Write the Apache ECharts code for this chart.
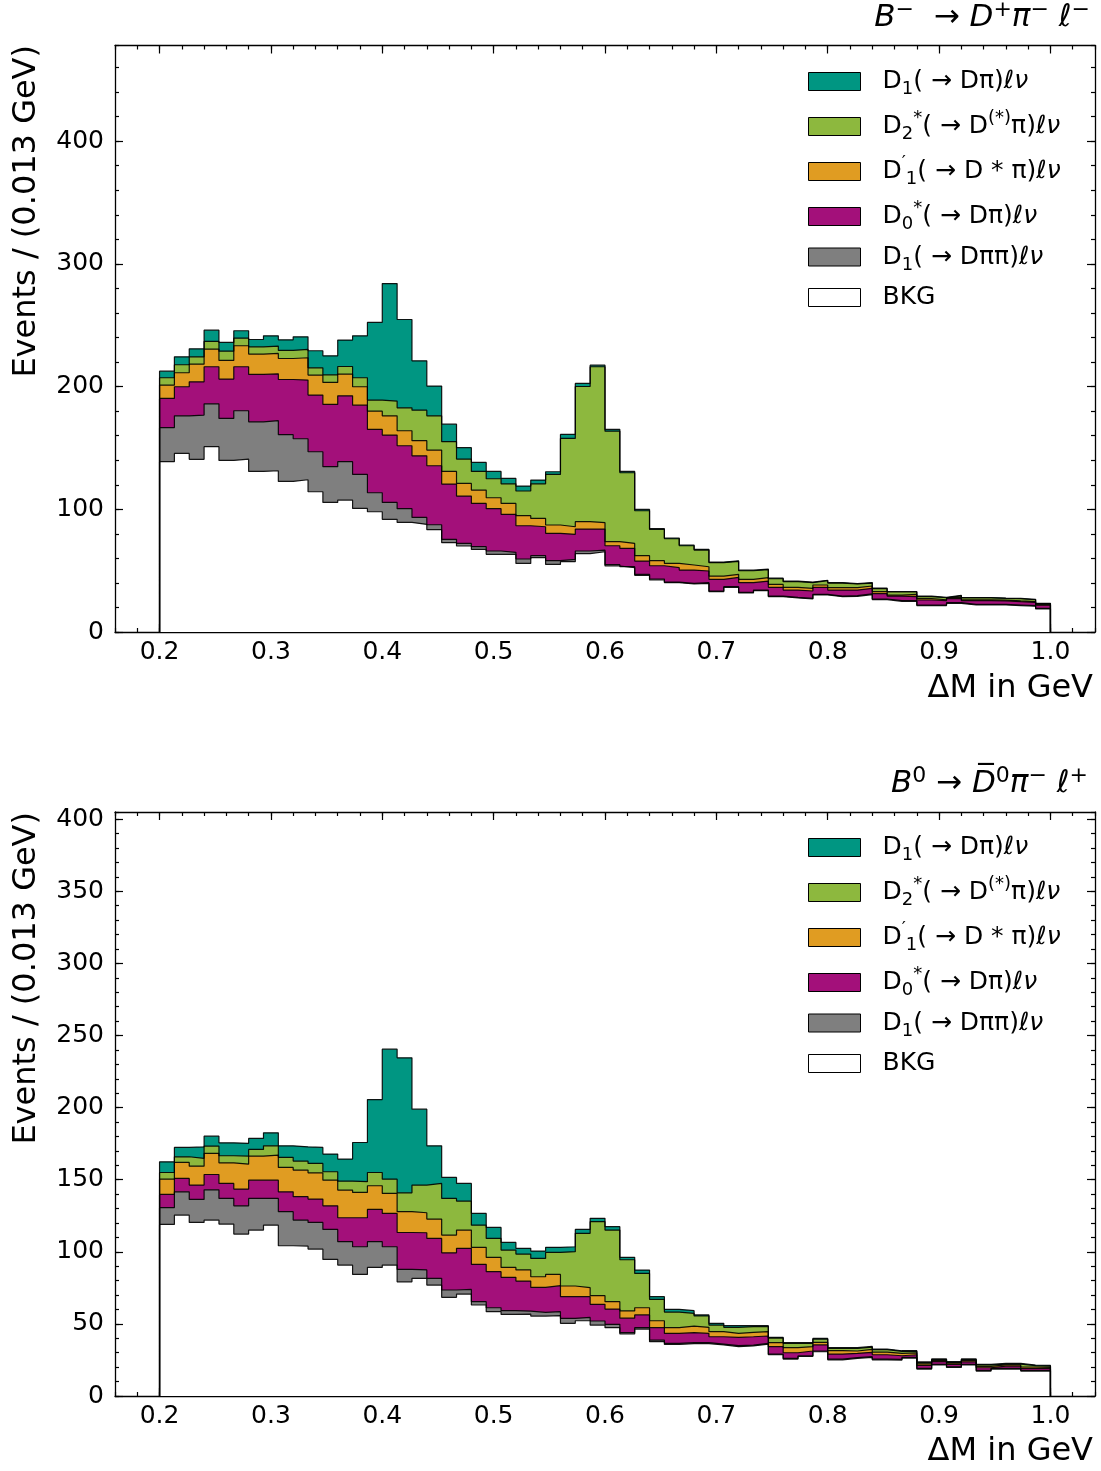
<!DOCTYPE html>
<html><head><meta charset="utf-8">
<script src="https://cdn.jsdelivr.net/npm/echarts@6/dist/echarts.min.js"></script>
<style>html,body{margin:0;padding:0;background:#fff}#c{width:1101px;height:1471px}</style>
</head><body><div id="c"></div>
<script>
// ---------------- data ----------------
const binLow = 0.2, binHigh = 1.0, nBins = 60;
const xMajorTicks = [0.2, 0.3, 0.4, 0.5, 0.6, 0.7, 0.8, 0.9, 1.0];
const yMajorTicksTop = [0, 100, 200, 300, 400];
const yMajorTicksBottom = [0, 50, 100, 150, 200, 250, 300, 350, 400];
const seriesNames = ['D1(→Dπ)ℓν', 'D2*(→D(*)π)ℓν', "D1'(→D*π)ℓν", 'D0*(→Dπ)ℓν', 'D1(→Dππ)ℓν', 'BKG'];
const seriesColors = ['#009682', '#8db83e', '#e09c22', '#a3107a', '#7f7f7f', '#ffffff'];

// Top panel: B- -> D+ pi- l-   (per-bin contributions)
const topBKG = [138.8,145.5,140.7,151.0,139.8,140.9,130.9,131.4,122.7,124.1,114.3,105.6,107.5,100.7,98.0,91.8,89.3,87.7,83.4,72.8,70.1,67.3,63.3,63.3,55.9,60.6,55.1,57.3,63.8,65.4,53.8,52.4,46.2,42.4,40.2,39.1,39.6,32.9,36.4,31.8,33.7,28.8,27.7,26.9,30.2,28.8,29.1,30.5,26.4,25.0,25.0,21.5,21.5,23.4,22.0,22.0,22.0,21.5,21.0,18.8];
const topD1pipi = [27.7,30.7,36.1,35.0,34.3,39.4,40.4,40.8,38.1,33.4,32.6,29.1,31.3,27.7,15.5,13.8,11.2,5.7,4.0,2.7,2.1,2.2,2.7,1.6,3.6,1.6,3.0,1.9,2.2,1.4,1.1,0.8,0.8,0.8,0.5,0.5,0.6,0.5,0.5,0.5,0.5,0.5,0.5,0.5,0.5,0.5,0.5,0.5,0.5,0.5,0.5,0.5,0.5,0.5,0.5,0.5,0.5,0.5,0.5,0.5];
const topD0 = [23.9,23.7,27.1,30.2,32.0,35.9,38.6,38.2,45.0,47.8,46.2,50.8,53.7,56.5,51.6,54.9,51.3,50.2,48.1,45.1,38.6,35.3,34.5,31.0,27.1,23.6,22.3,20.4,17.9,17.1,15.4,15.0,10.8,10.8,11.7,10.9,9.5,9.5,7.6,7.9,7.3,7.1,6.0,6.0,5.7,4.9,4.6,4.6,4.3,3.8,3.3,4.1,3.5,3.3,3.0,3.0,2.8,2.7,2.7,2.5];
const topD1p = [10.8,11.4,14.4,14.3,15.2,17.1,16.6,16.6,17.1,18.2,16.3,17.9,17.7,15.0,14.9,15.7,12.2,12.3,12.8,10.3,10.3,10.9,8.9,8.9,8.2,6.8,6.8,6.2,6.0,5.2,3.3,4.0,4.4,4.1,3.5,4.1,3.5,2.7,2.5,2.7,2.8,2.4,2.2,2.1,1.9,1.9,1.9,1.9,1.7,0.8,1.9,1.1,0.8,0.8,0.8,0.8,0.7,0.6,0.6,0.5];
const topD2 = [6.0,6.5,6.0,6.3,7.6,6.2,5.9,6.0,6.6,6.8,5.9,6.2,6.2,7.3,9.0,12.0,18.7,24.9,27.9,24.2,19.8,15.2,15.5,16.0,20.1,28.2,41.2,72.0,110.2,127.1,90.1,57.6,36.6,25.5,20.1,15.7,13.6,10.9,10.5,7.0,6.5,4.6,4.6,4.7,3.5,3.8,3.0,2.4,2.4,2.5,1.9,1.6,1.6,1.5,1.5,1.5,1.4,1.8,1.5,0.8];
const topD1 = [5.4,6.5,6.5,9.2,7.1,6.0,6.0,8.4,8.6,10.3,13.9,15.5,21.5,34.2,63.3,95.8,72.0,40.2,24.2,14.3,9.3,7.3,6.0,4.4,4.0,3.0,2.2,3.2,2.5,1.3,1.4,1.1,1.1,0.6,0.6,0.6,0.6,0.5,0.5,0.5,0.5,0.5,0.4,0.4,0.4,0.4,0.4,0.4,0.4,0.4,0.4,0.4,0.4,0.3,0.3,0.3,0.3,0.3,0.3,0.3];

// Bottom panel: B0 -> D0bar pi- l+
const botBKG = [119.0,125.5,120.4,122.0,119.2,112.3,115.1,118.5,104.2,104.0,101.9,94.7,90.8,84.3,89.2,90.8,79.2,81.6,76.9,68.4,70.7,63.1,58.5,56.6,56.8,55.4,55.7,50.4,52.2,49.2,47.4,43.0,46.4,37.7,35.8,36.3,36.3,35.4,34.2,34.7,36.0,28.6,25.6,27.4,30.7,25.1,26.1,26.8,25.1,24.9,26.3,18.7,21.5,19.8,21.5,17.3,18.7,18.7,17.3,17.3];
const botD1pipi = [11.6,16.1,15.9,21.0,17.8,19.6,21.9,18.5,23.6,18.0,18.5,20.8,16.2,19.2,17.8,12.7,8.6,5.8,4.7,5.1,3.2,2.3,2.7,2.6,2.1,2.6,2.8,3.4,2.3,2.8,2.3,1.0,1.0,1.1,0.7,0.7,0.7,0.6,0.7,0.6,0.5,0.5,0.5,0.5,0.5,0.5,0.5,0.5,0.5,0.5,0.5,0.5,0.5,0.5,0.5,0.5,0.5,0.5,0.5,0.5];
const botD0 = [9.2,9.3,10.0,10.6,10.4,11.6,12.7,12.7,13.8,16.2,16.2,16.4,16.6,20.1,22.4,23.1,25.6,25.8,27.7,25.8,28.5,25.9,25.0,23.1,20.8,17.3,18.0,15.1,14.4,11.6,10.6,10.0,8.8,8.6,6.9,6.9,6.4,5.1,5.8,5.8,5.1,5.1,3.9,3.3,4.2,3.5,3.0,3.0,3.0,2.5,1.8,2.0,1.8,1.6,1.7,1.8,1.5,1.5,1.4,1.3];
const botD1p = [10.6,11.1,13.1,14.6,14.3,17.3,16.7,17.4,16.9,18.5,18.2,17.8,19.2,17.6,16.4,13.9,14.4,13.9,13.4,12.3,12.7,11.8,9.9,6.9,7.7,7.4,7.8,7.4,6.2,6.0,5.1,5.0,5.0,4.8,4.0,4.6,4.2,3.5,2.7,3.0,3.0,2.8,3.5,3.0,1.8,2.3,1.6,2.0,1.8,1.6,1.3,1.1,0.9,0.9,1.0,1.0,0.9,0.9,0.9,0.8];
const botD2 = [4.6,3.9,5.4,5.1,4.9,5.6,4.6,6.4,7.0,6.2,6.5,5.8,6.2,7.4,9.2,9.9,13.1,19.2,24.7,25.4,20.1,15.4,13.2,12.0,11.0,12.7,15.3,23.8,37.7,51.3,49.7,35.5,23.8,14.8,10.8,8.8,7.9,4.6,4.2,4.0,3.6,3.2,3.0,2.3,2.2,1.6,1.8,1.6,1.7,1.4,1.0,0.8,0.5,0.5,0.5,0.9,0.5,0.5,0.9,0.8];
const botD1 = [7.4,6.5,8.0,6.9,9.0,8.8,7.6,9.0,8.0,9.9,11.1,12.3,15.3,27.2,50.6,90.1,93.6,52.6,26.1,14.6,12.2,8.1,7.6,5.3,4.0,5.1,3.5,3.4,2.7,2.3,2.3,1.7,2.3,1.9,1.9,1.9,0.7,1.2,1.2,0.7,0.6,0.5,0.5,0.5,0.5,0.5,0.5,0.5,0.5,0.5,0.5,0.5,0.5,0.5,0.5,0.5,0.5,0.5,0.5,0.5];

// ---------------- build ----------------
const FONT = 'DejaVu Sans';
const edges = Array.from({length: nBins}, (_, i) => binLow + i * (binHigh - binLow) / nBins);

function cumulative(layersBottomUp) {
  const out = [];
  let run = new Array(nBins).fill(0);
  layersBottomUp.forEach(l => { run = run.map((v, i) => v + l[i]); out.push(run.slice()); });
  return out; // out[0]=bkg ... out[5]=total
}
function histData(cum) {
  const pts = [[binLow, 0]];
  for (let i = 0; i < nBins; i++) pts.push([edges[i], +cum[i].toFixed(3)]);
  pts.push([binHigh, +cum[nBins - 1].toFixed(3)]);
  pts.push([binHigh, 0]);
  return pts;
}
const panels = [
  cumulative([topBKG, topD1pipi, topD0, topD1p, topD2, topD1]),
  cumulative([botBKG, botD1pipi, botD0, botD1p, botD2, botD1])
];

const tickLine = {color: '#000', width: 1.2};
const axLine = {color: '#000', width: 1.3};
const isMult = (v, step) => Math.abs(v / step - Math.round(v / step)) < 1e-6;

function xAxesFor(gi) {
  const base = {gridIndex: gi, type: 'value', min: 0.16, max: 1.04, splitLine: {show: false}};
  return [
    Object.assign({}, base, {position: 'bottom', interval: 0.02,
      axisLine: {onZero: false, lineStyle: axLine},
      axisTick: {inside: true, length: 4, lineStyle: tickLine},
      axisLabel: {formatter: v => (isMult(v, 0.1) && v > 0.19 && v < 1.01) ? v.toFixed(1) : '',
        fontFamily: FONT, fontSize: 25, color: '#000', margin: 8}}),
    Object.assign({}, base, {position: 'bottom',
      axisLine: {show: false, onZero: false},
      axisTick: {inside: true, length: 8, customValues: xMajorTicks, lineStyle: tickLine},
      axisLabel: {show: false}}),
    Object.assign({}, base, {position: 'top', interval: 0.02,
      axisLine: {onZero: false, lineStyle: axLine},
      axisTick: {inside: true, length: 4, lineStyle: tickLine},
      axisLabel: {show: false}}),
    Object.assign({}, base, {position: 'top',
      axisLine: {show: false, onZero: false},
      axisTick: {inside: true, length: 8, customValues: xMajorTicks, lineStyle: tickLine},
      axisLabel: {show: false}})
  ];
}
function yAxesFor(gi, ymax, minorInt, majors, labelStep) {
  const base = {gridIndex: gi, type: 'value', min: 0, max: ymax, splitLine: {show: false}};
  return [
    Object.assign({}, base, {position: 'left', interval: minorInt,
      axisLine: {onZero: false, lineStyle: axLine},
      axisTick: {inside: true, length: 4, lineStyle: tickLine},
      axisLabel: {formatter: v => (isMult(v, labelStep) && v <= majors[majors.length - 1]) ? String(Math.round(v)) : '',
        fontFamily: FONT, fontSize: 25, color: '#000', margin: 11}}),
    Object.assign({}, base, {position: 'left',
      axisLine: {show: false, onZero: false},
      axisTick: {inside: true, length: 8, customValues: majors, lineStyle: tickLine},
      axisLabel: {show: false}}),
    Object.assign({}, base, {position: 'right', interval: minorInt,
      axisLine: {onZero: false, lineStyle: axLine},
      axisTick: {inside: true, length: 4, lineStyle: tickLine},
      axisLabel: {show: false}}),
    Object.assign({}, base, {position: 'right',
      axisLine: {show: false, onZero: false},
      axisTick: {inside: true, length: 8, customValues: majors, lineStyle: tickLine},
      axisLabel: {show: false}})
  ];
}

const series = [];
panels.forEach((cum, p) => {
  seriesNames.forEach((nm, k) => {
    series.push({
      type: 'line', name: nm, xAxisIndex: p * 4, yAxisIndex: p * 4,
      data: histData(cum[5 - k]), step: 'end', symbol: 'none', showSymbol: false,
      silent: true, animation: false, emphasis: {disabled: true},
      itemStyle: {color: seriesColors[k]},
      lineStyle: {color: '#000', width: 1.2, opacity: 0.9},
      areaStyle: {color: seriesColors[k], opacity: 1, origin: 'start'}
    });
  });
});

const legendLabels = {
  'D1(→Dπ)ℓν': '{n|D}{sb|1}{n|( → Dπ)}{i|ℓν}',
  'D2*(→D(*)π)ℓν': '{n|D}{sb|2}{sp|*}{n|( → D}{sp|(*)}{n|π)}{i|ℓν}',
  "D1'(→D*π)ℓν": '{n|D}{sp|′}{sb|1}{n|( → D * π)}{i|ℓν}',
  'D0*(→Dπ)ℓν': '{n|D}{sb|0}{sp|*}{n|( → Dπ)}{i|ℓν}',
  'D1(→Dππ)ℓν': '{n|D}{sb|1}{n|( → Dππ)}{i|ℓν}',
  'BKG': '{bk|BKG}'
};
const legendRich = {
  n: {fontFamily: FONT, fontSize: 25, lineHeight: 34, color: '#000'},
  i: {fontFamily: FONT, fontSize: 25, lineHeight: 34, color: '#000', fontStyle: 'italic'},
  sb: {fontFamily: FONT, fontSize: 18, lineHeight: 21, color: '#000', verticalAlign: 'bottom'},
  sp: {fontFamily: FONT, fontSize: 18, lineHeight: 21, color: '#000', verticalAlign: 'top'},
  bk: {fontFamily: FONT, fontSize: 25, lineHeight: 24, color: '#000'}
};
function legendFor(top) {
  return {
    orient: 'vertical', left: 808, top: top, padding: 0, itemGap: 11,
    itemWidth: 52, itemHeight: 18, icon: 'rect', selectedMode: false,
    data: seriesNames.map((nm, k) => ({name: nm,
      itemStyle: {color: seriesColors[k], borderColor: '#000', borderWidth: 1}})),
    formatter: nm => legendLabels[nm],
    textStyle: {padding: [0, 0, 0, 17], rich: legendRich}
  };
}

const titleRich = {
  i: {fontFamily: FONT, fontSize: 31, lineHeight: 38, color: '#000', fontStyle: 'italic', fontWeight: 'normal'},
  n: {fontFamily: FONT, fontSize: 31, lineHeight: 38, color: '#000', fontWeight: 'normal'},
  sp: {fontFamily: FONT, fontSize: 22, lineHeight: 22, color: '#000', verticalAlign: 'top', fontWeight: 'normal'}
};

const axisTitle = (x, y, text, rot, align) => ({
  type: 'text', x: x, y: y, rotation: rot, silent: true,
  style: {text: text, fontFamily: FONT, fontSize: 32, fill: '#000',
    align: align, textAlign: align, verticalAlign: 'middle', textVerticalAlign: 'middle'}
});

const option = {
  animation: false,
  backgroundColor: '#fff',
  textStyle: {fontFamily: FONT},
  title: [
    {text: '{i|B}{sp|−}{n|  → }{i|D}{sp|+}{i|π}{sp|−}{i| ℓ}{sp|−}', right: 11, top: -1, padding: 0,
      textStyle: {fontWeight: 'normal', rich: titleRich}},
    {text: '{i|B}{sp|0}{n| → }{i|D\u0305}{sp|0}{i|π}{sp|−}{i| ℓ}{sp|+}', right: 13, top: 765, padding: 0,
      textStyle: {fontWeight: 'normal', rich: titleRich}}
  ],
  grid: [
    {left: 115, top: 45.5, width: 980, height: 586.5},
    {left: 115, top: 812, width: 980, height: 584}
  ],
  xAxis: xAxesFor(0).concat(xAxesFor(1)),
  yAxis: yAxesFor(0, 478, 20, yMajorTicksTop, 100).concat(yAxesFor(1, 405, 10, yMajorTicksBottom, 50)),
  legend: [legendFor(69), legendFor(835)],
  graphic: [
    axisTitle(1093, 689, 'ΔM in GeV', 0, 'right'),
    axisTitle(1093, 1452, 'ΔM in GeV', 0, 'right'),
    axisTitle(27, 45, 'Events / (0.013 GeV)', Math.PI / 2, 'right'),
    axisTitle(27, 812, 'Events / (0.013 GeV)', Math.PI / 2, 'right')
  ],
  series: series
};
const chart = echarts.init(document.getElementById('c'), null, {renderer: 'canvas'});
chart.setOption(option);
</script></body></html>
